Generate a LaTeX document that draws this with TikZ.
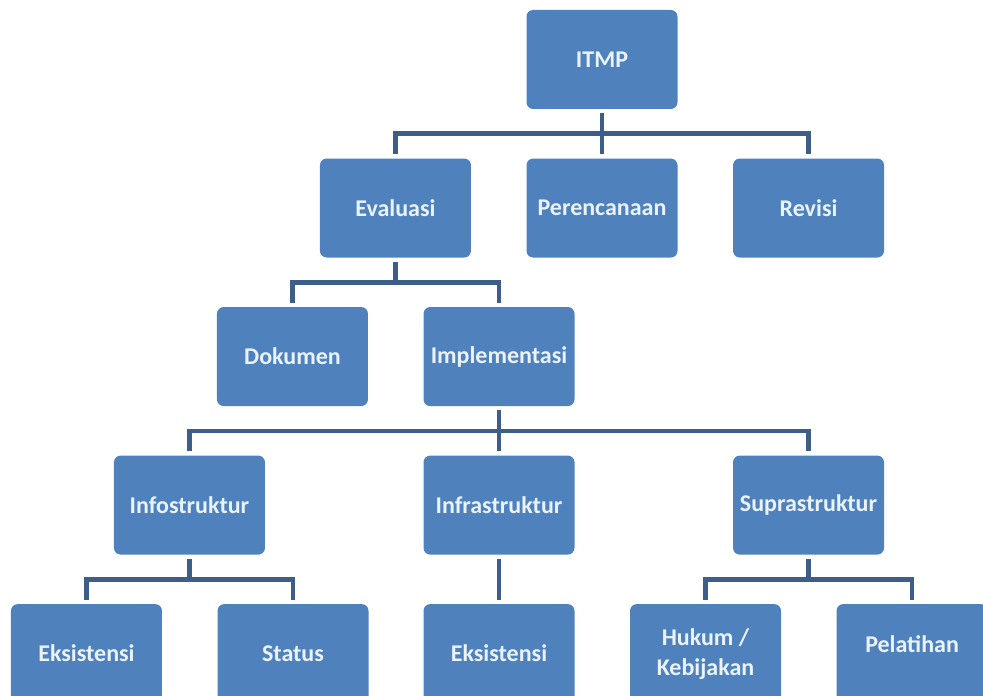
\documentclass[tikz,border=0pt]{standalone}
\usepackage{fontspec}
\setmainfont{Carlito}
\usetikzlibrary{calc,positioning}
\definecolor{boxblue}{HTML}{4F81BD}
\definecolor{linkblue}{HTML}{3D5E89}
\definecolor{boxtext}{HTML}{EAF2FA}
\begin{document}
\begin{tikzpicture}[x=0.75pt,y=0.75pt,node distance=36.75pt and 41.25pt,
  box/.style={fill=boxblue,rounded corners=5pt,minimum width=113.25pt,minimum height=74.25pt,
    align=center,text=boxtext,font=\bfseries\fontsize{18}{22.5}\selectfont,inner sep=2pt},
  link/.style={draw=linkblue,line width=3.4pt,shorten <=3pt,shorten >=3pt}]
\clip (0,0) rectangle (983,696);
% level 1 and 2
\node[box] (itmp) at (602,636.5) {ITMP};
\node[box,below=of itmp] (per) {Perencanaan};
\node[box,left=of per] (eval) {Evaluasi};
\node[box,right=of per] (rev) {Revisi};
% level 3
\node[box,below=of eval,xshift=-77.25pt] (dok) {Dokumen};
\node[box,right=of dok] (impl) {Implementasi};
% level 4
\node[box,below=of dok,xshift=-77.25pt] (info) {Infostruktur};
\node[box,below=of impl] (infra) {Infrastruktur};
\node[box,right=118.5pt of infra] (supra) {Suprastruktur};
% level 5
\node[box,below=of info,xshift=-77.25pt] (eks1) {Eksistensi};
\node[box,right=of eks1] (stat) {Status};
\node[box,below=of infra] (eks2) {Eksistensi};
\node[box,below=of supra,xshift=-77.25pt] (huk) {Hukum /\\Kebijakan};
\node[box,right=of huk,text depth=14pt] (pel) {Pelatihan};
% junctions
\coordinate (j1) at ($(itmp.south)!.5!(per.north)$);
\coordinate (j2) at ($(eval.south)!.5!(dok.north)$);
\coordinate (j3) at ($(impl.south)!.5!(infra.north)$);
\coordinate (j4) at ($(info.south)!.5!(eks1.north)$);
\coordinate (j5) at ($(supra.south)!.5!(huk.north)$);
% connectors
\draw[link] (itmp) -- (per);
\draw[link] (eval.north) |- (j1) -| (rev.north);
\draw[link,shorten >=0pt] (eval.south) -- (j2 -| eval.south);
\draw[link] (dok.north) |- (j2) -| (impl.north);
\draw[link] (impl) -- (infra);
\draw[link] (info.north) |- (j3) -| (supra.north);
\draw[link,shorten >=0pt] (info.south) -- (j4 -| info.south);
\draw[link] (eks1.north) |- (j4) -| (stat.north);
\draw[link] (infra) -- (eks2);
\draw[link,shorten >=0pt] (supra.south) -- (j5 -| supra.south);
\draw[link] (huk.north) |- (j5) -| (pel.north);
\end{tikzpicture}
\end{document}
